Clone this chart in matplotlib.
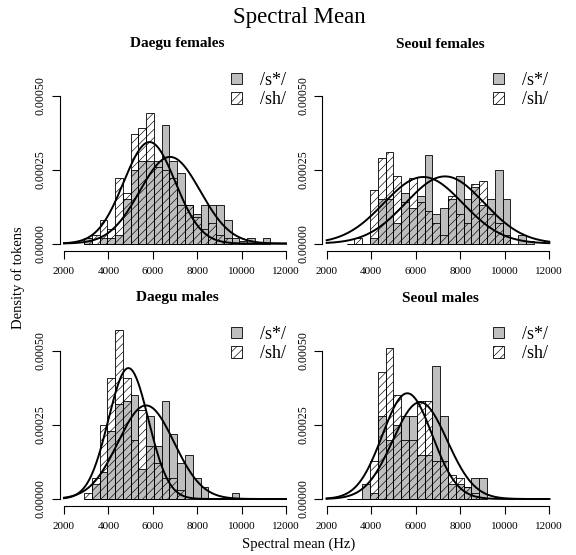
import matplotlib
matplotlib.use("Agg")
import matplotlib.pyplot as plt
from matplotlib.patches import Patch
import numpy as np

plt.rcParams["font.family"] = ["Liberation Serif", "DejaVu Serif"]
plt.rcParams["hatch.linewidth"] = 0.45

# histogram bins (Hz), shared by all panels
bin_start = 2900
bin_width = 350

# densities per bin
daegu_f_sstar = [0.00002, 0.0, 0.00002, 0.00002, 0.00003, 0.00015, 0.00025, 0.00028,
                 0.00028, 0.00028, 0.00040, 0.00028, 0.00024, 0.00013, 0.00010, 0.00013,
                 0.00013, 0.00013, 0.00008, 0.00002, 0.00001, 0.00002, 0.0, 0.00002]
daegu_f_sh = [0.00002, 0.00003, 0.00008, 0.00005, 0.00022, 0.00017, 0.00037, 0.00039,
              0.00044, 0.00026, 0.00025, 0.00022, 0.00013, 0.00013, 0.00009, 0.00005,
              0.00007, 0.00003, 0.00002]

seoul_f_sstar = [0.0, 0.0, 0.0, 0.00002, 0.00015, 0.00015, 0.00007, 0.00017,
                 0.00012, 0.00016, 0.00030, 0.00010, 0.00012, 0.00015, 0.00023, 0.00015,
                 0.00019, 0.00013, 0.00015, 0.00025, 0.00015, 0.0, 0.00003, 0.00001]
seoul_f_sh = [0.0, 0.00002, 0.0, 0.00018, 0.00029, 0.00031, 0.00023, 0.00014,
              0.00022, 0.00014, 0.00011, 0.00007, 0.00003, 0.00016, 0.00010, 0.00007,
              0.00020, 0.00021, 0.00010, 0.00007, 0.00003]

daegu_m_sstar = [0.0, 0.00005, 0.00009, 0.00023, 0.00032, 0.00033, 0.00035, 0.00010,
                 0.00028, 0.00018, 0.00033, 0.00022, 0.00012, 0.00015, 0.00007, 0.00004,
                 0.0, 0.0, 0.0, 0.00002]
daegu_m_sh = [0.00002, 0.00007, 0.00025, 0.00041, 0.00057, 0.00041, 0.00020, 0.00030,
              0.00018, 0.00012, 0.00007, 0.00007, 0.00003]

seoul_m_sstar = [0.0, 0.0, 0.00005, 0.00002, 0.00028, 0.00020, 0.00025, 0.00028,
                 0.00028, 0.00015, 0.00015, 0.00045, 0.00028, 0.00005, 0.00005, 0.00004,
                 0.00007, 0.00007]
seoul_m_sh = [0.0, 0.0, 0.0, 0.00013, 0.00043, 0.00051, 0.00035, 0.00020,
              0.00020, 0.00033, 0.00033, 0.00013, 0.00013, 0.00008, 0.00007, 0.00004,
              0.00002]

# fitted normal curves: (mean, sd)
fits = {
    "Daegu females": {"sstar": (6775, 1362), "sh": (5850, 1163)},
    "Seoul females": {"sstar": (7314, 1757), "sh": (6340, 1773)},
    "Daegu males": {"sstar": (5694, 1262), "sh": (4900, 902)},
    "Seoul males": {"sstar": (6192, 1220), "sh": (5623, 1117)},
}

panels = [
    ("Daegu females", daegu_f_sstar, daegu_f_sh),
    ("Seoul females", seoul_f_sstar, seoul_f_sh),
    ("Daegu males", daegu_m_sstar, daegu_m_sh),
    ("Seoul males", seoul_m_sstar, seoul_m_sh),
]

x_ticks = [2000, 4000, 6000, 8000, 10000, 12000]
y_ticks = [0.0, 0.00025, 0.0005]
y_labels = ["0.00000", "0.00025", "0.00050"]

W, H = 576, 555
fig = plt.figure(figsize=(W / 100, H / 100), dpi=100)

def px_rect(l, t, r, b):
    return [l / W, 1 - b / H, (r - l) / W, (b - t) / H]

# axes boxes in pixels (left, top, right, bottom)
boxes = [(59.6, 66, 294.9, 251), (322.2, 66, 558.2, 251),
         (59.6, 321.4, 294.9, 506.4), (322.2, 321.4, 558.2, 506.4)]
title_y = [44, 44, 298, 298]
legend_pos = [(231, 72), (493, 72), (231, 326), (493, 326)]

gray = "#bebebe"

def dnorm(x, m, s):
    return np.exp(-0.5 * ((x - m) / s) ** 2) / (s * np.sqrt(2 * np.pi))

xs = np.linspace(2000, 12000, 400)

for k, (name, sstar, sh) in enumerate(panels):
    ax = fig.add_axes(px_rect(*boxes[k]))
    left_s = bin_start + bin_width * np.arange(len(sstar))
    left_h = bin_start + bin_width * np.arange(len(sh))
    ax.bar(left_s, sstar, width=bin_width, align="edge", color=gray,
           edgecolor="black", linewidth=0.6)
    ax.bar(left_h, sh, width=bin_width, align="edge", facecolor="none",
           edgecolor="black", linewidth=0.6, hatch="////")
    for key in ["sstar", "sh"]:
        m, s = fits[name][key]
        ax.plot(xs, dnorm(xs, m, s), color="black", lw=1.4)

    ax.set_xlim(1800, 12400)
    ax.set_ylim(-0.000025, 0.0006)
    for sp in ["top", "right"]:
        ax.spines[sp].set_visible(False)
    ax.spines["bottom"].set_bounds(2000, 12000)
    ax.spines["left"].set_bounds(0, 0.0005)
    ax.spines["bottom"].set_linewidth(0.8)
    ax.spines["left"].set_linewidth(0.8)
    ax.set_xticks(x_ticks)
    ax.set_xticklabels([str(t) for t in x_ticks], fontsize=8)
    ax.set_yticks(y_ticks)
    ax.set_yticklabels(y_labels, fontsize=8.5, rotation=90, va="center")
    ax.tick_params(length=5.5, width=0.8)
    ax.tick_params(axis="x", pad=6)
    ax.tick_params(axis="y", pad=4)

    bl, bt, br, bb = boxes[k]
    fig.text((bl + br) / 2 / W, 1 - title_y[k] / H, name, ha="center",
             va="center", fontsize=11, fontweight="bold")

    handles = [Patch(facecolor=gray, edgecolor="black", linewidth=0.6),
               Patch(facecolor="white", edgecolor="black", linewidth=0.6, hatch="////")]
    lx, ly = legend_pos[k]
    ax.legend(handles, ["/s*/", "/sh/"], loc="upper left",
              bbox_to_anchor=(lx / W, 1 - ly / H), bbox_transform=fig.transFigure,
              frameon=False, fontsize=13, borderpad=0, borderaxespad=0,
              handlelength=0.62, handleheight=0.62, handletextpad=1.0,
              labelspacing=0.12)

fig.text(299 / W, 1 - 17 / H, "Spectral Mean", ha="center", va="center", fontsize=16.5)
fig.text(299 / W, 1 - 544 / H, "Spectral mean (Hz)", ha="center", va="center", fontsize=10.5)
fig.text(18 / W, 1 - 278 / H, "Density of tokens", ha="center", va="center",
         rotation=90, fontsize=10.5)

fig.savefig("out.png", dpi=100)
